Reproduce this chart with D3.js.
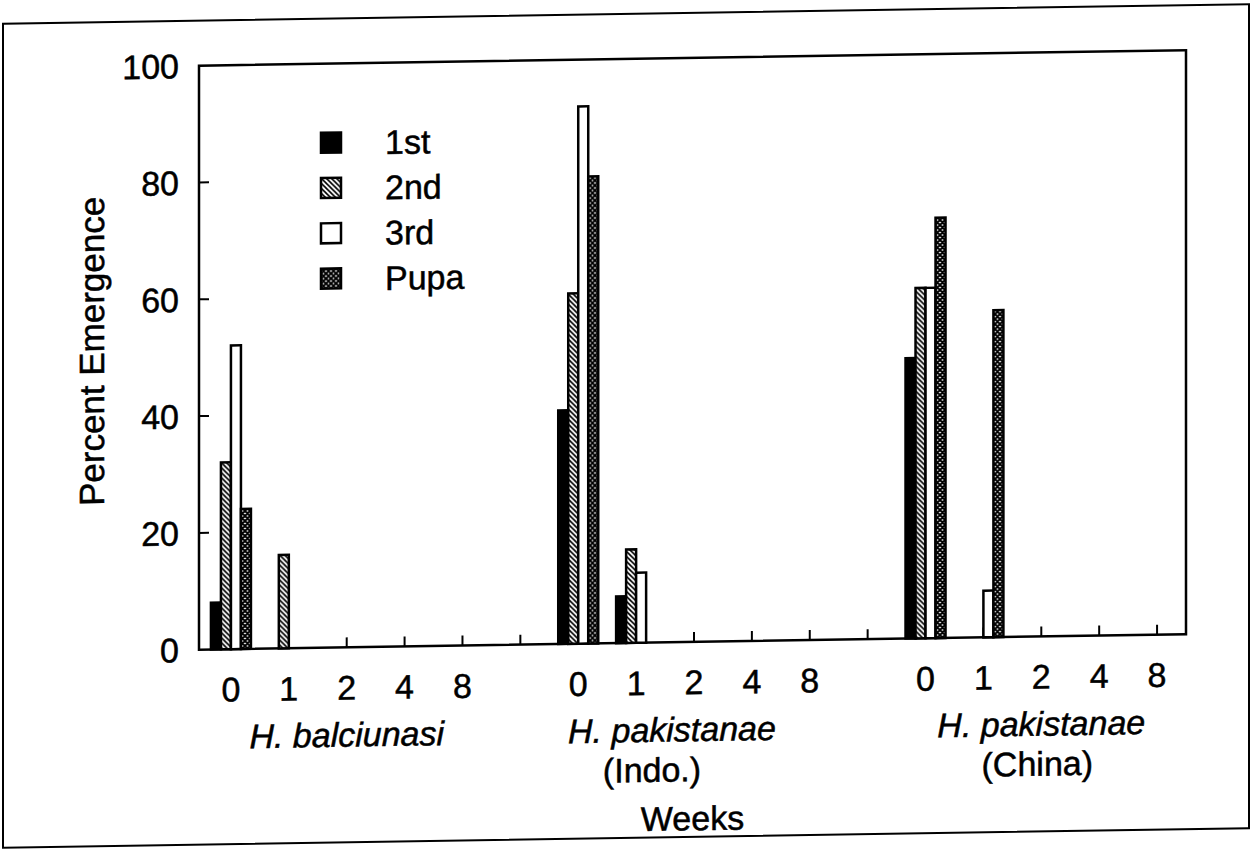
<!DOCTYPE html>
<html>
<head>
<meta charset="utf-8">
<script src="https://cdn.jsdelivr.net/npm/d3@7"></script>
<style>
  body { margin: 0; background: #fff; }
  text { font-family: "Liberation Sans", Arial, sans-serif; fill: #000; stroke: #000; stroke-width: 0.5px; font-size: 34px; }
</style>
</head>
<body>
<div class="canvas"></div>
<script>
const species = ['H. balciunasi', 'H. pakistanae (Indo.)', 'H. pakistanae (China)'];
const weeks = ['0', '1', '2', '4', '8'];
const stages = ['1st', '2nd', '3rd', 'Pupa'];
// percent emergence: one row per species, one column per week
const firstInstar = [[8, 0, 0, 0, 0], [40, 8, 0, 0, 0], [48, 0, 0, 0, 0]];
const secondInstar = [[32, 16, 0, 0, 0], [60, 16, 0, 0, 0], [60, 0, 0, 0, 0]];
const thirdInstar = [[52, 0, 0, 0, 0], [92, 12, 0, 0, 0], [60, 8, 0, 0, 0]];
const pupa = [[24, 0, 0, 0, 0], [80, 0, 0, 0, 0], [72, 56, 0, 0, 0]];
const yTicks = [0, 20, 40, 60, 80, 100];

const stageValues = [firstInstar, secondInstar, thirdInstar, pupa];
const stageFill = ['#000', 'url(#hatch)', '#fff', 'url(#cross)'];
// small nudges of the species captions (line 1, line 2) as in the figure
const captionShift = [[0, 0], [-22, -42], [0, -4]];

const svg = d3.select('.canvas')
    .append('svg')
    .attr('width', 1251)
    .attr('height', 856);

// fill patterns
const defs = svg.append('defs');
const hatch = defs.append('pattern')
    .attr('id', 'hatch')
    .attr('patternUnits', 'userSpaceOnUse')
    .attr('width', 5).attr('height', 5);
hatch.append('rect').attr('width', 5).attr('height', 5).attr('fill', '#fff');
hatch.append('path')
    .attr('d', 'M0,0L5,5M4,-1L6,1M-1,4L1,6')
    .attr('stroke', '#000').attr('stroke-width', 1.6);

const cross = defs.append('pattern')
    .attr('id', 'cross')
    .attr('patternUnits', 'userSpaceOnUse')
    .attr('width', 5).attr('height', 5);
cross.append('rect').attr('width', 5).attr('height', 5).attr('fill', '#fff');
cross.append('path')
    .attr('d', 'M0,0L5,5M4,-1L6,1M-1,4L1,6M0,5L5,0M-1,1L1,-1M4,6L6,4')
    .attr('stroke', '#000').attr('stroke-width', 2);

// the scanned figure is slightly tilted
const page = svg.append('g')
    .attr('transform', 'translate(625,0) skewY(-0.9) translate(-625,0)');

// outer frame
page.append('rect')
    .attr('x', 3).attr('y', 14)
    .attr('width', 1246).attr('height', 824)
    .attr('fill', 'none').attr('stroke', '#000').attr('stroke-width', 2);

// one slot per week, with an empty slot between species
const slots = [];
species.forEach((s, si) => {
    weeks.forEach((w, wi) => slots.push({ key: s + '|' + w, si, wi, week: w }));
    if (si < species.length - 1) slots.push({ key: 'gap' + si, si: -1 });
});

const x = d3.scaleBand()
    .domain(slots.map(d => d.key))
    .range([202, 1186]);

const xStage = d3.scaleBand()
    .domain(stages)
    .range([x.bandwidth() / 2 - 20, x.bandwidth() / 2 + 20]);

const y = d3.scaleLinear()
    .domain([0, 100])
    .range([643, 59]);

const plotLeft = 199, plotRight = 1186;

// plot box
page.append('rect')
    .attr('x', plotLeft).attr('y', y(100))
    .attr('width', plotRight - plotLeft).attr('height', y(0) - y(100))
    .attr('fill', 'none').attr('stroke', '#000').attr('stroke-width', 2.5);

// y ticks (inside) and labels
page.selectAll('.ytick')
    .data(yTicks.filter(t => t > 0 && t < 100))
    .enter().append('line')
    .attr('x1', plotLeft).attr('x2', plotLeft + 10)
    .attr('y1', d => y(d)).attr('y2', d => y(d))
    .attr('stroke', '#000').attr('stroke-width', 2);

page.selectAll('.ylab')
    .data(yTicks)
    .enter().append('text')
    .attr('x', 179)
    .attr('y', d => y(d))
    .attr('dy', '0.36em')
    .attr('text-anchor', 'end')
    .text(d => d);

page.append('text')
    .attr('transform', `translate(104, ${(y(0) + y(100)) / 2 - 8}) rotate(-90)`)
    .attr('text-anchor', 'middle')
    .style('font-size', '35px')
    .text('Percent Emergence');

// x ticks (pointing up) at every slot
page.selectAll('.xtick')
    .data(slots)
    .enter().append('line')
    .attr('x1', d => x(d.key) + x.bandwidth() / 2)
    .attr('x2', d => x(d.key) + x.bandwidth() / 2)
    .attr('y1', y(0)).attr('y2', y(0) - 10)
    .attr('stroke', '#000').attr('stroke-width', 2);

// bars
const bars = [];
slots.filter(d => d.si >= 0).forEach(d => {
    stages.forEach((st, k) => {
        const v = stageValues[k][d.si][d.wi];
        if (v > 0) bars.push({ slot: d.key, stage: st, k, value: v });
    });
});

page.selectAll('.bar')
    .data(bars)
    .enter().append('rect')
    .attr('x', d => x(d.slot) + xStage(d.stage))
    .attr('y', d => y(d.value))
    .attr('width', xStage.bandwidth())
    .attr('height', d => y(0) - y(d.value))
    .attr('fill', d => stageFill[d.k])
    .attr('stroke', '#000')
    .attr('stroke-width', 2.5);

// week labels
page.selectAll('.xlab')
    .data(slots.filter(d => d.si >= 0))
    .enter().append('text')
    .attr('x', d => x(d.key) + x.bandwidth() / 2)
    .attr('y', 683)
    .attr('dy', '0.36em')
    .attr('text-anchor', 'middle')
    .text(d => d.week);

// species labels under the week-2 slot
species.forEach((s, si) => {
    const cx = x(s + '|2') + x.bandwidth() / 2;
    const parts = s.split(' (');
    const t = page.append('text')
        .attr('text-anchor', 'middle');
    t.append('tspan')
        .attr('x', cx + captionShift[si][0]).attr('y', 730).attr('dy', '0.36em')
        .style('font-style', 'italic')
        .text(parts[0]);
    if (parts[1]) {
        t.append('tspan')
            .attr('x', cx + captionShift[si][1]).attr('y', 770).attr('dy', '0.36em')
            .text('(' + parts[1]);
    }
});

page.append('text')
    .attr('x', (plotLeft + plotRight) / 2)
    .attr('y', 819)
    .attr('dy', '0.36em')
    .attr('text-anchor', 'middle')
    .text('Weeks');

// legend
const legend = page.selectAll('.legend')
    .data(stages)
    .enter().append('g')
    .attr('transform', (d, i) => `translate(321, ${138 + i * 45.3})`);

legend.append('rect')
    .attr('x', 0).attr('y', -10)
    .attr('width', 20).attr('height', 20)
    .attr('fill', (d, i) => stageFill[i])
    .attr('stroke', '#000').attr('stroke-width', 2.5);

legend.append('text')
    .attr('x', 64)
    .attr('dy', '0.36em')
    .text(d => d);
</script>
</body>
</html>
